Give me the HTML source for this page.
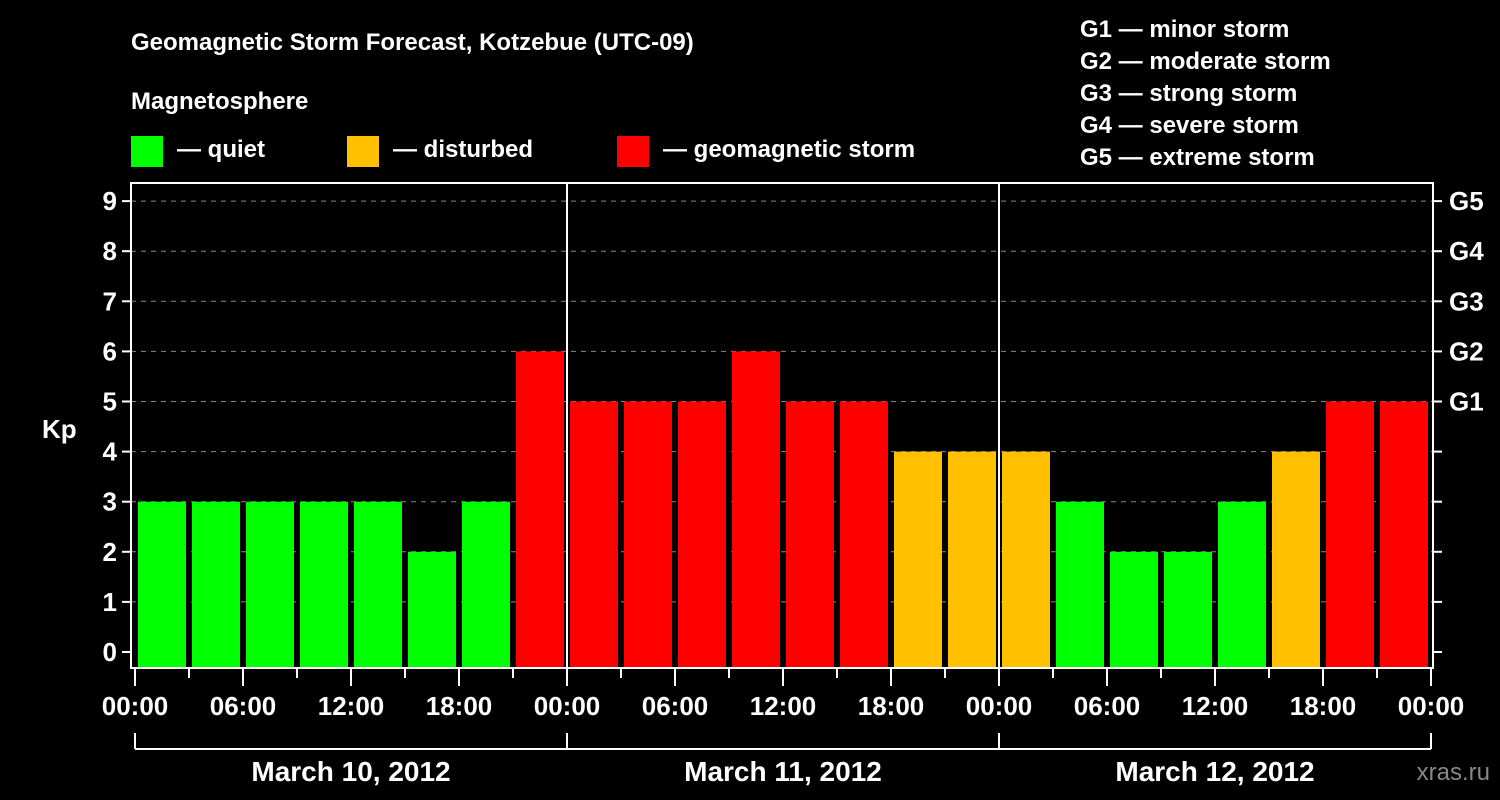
<!DOCTYPE html>
<html><head><meta charset="utf-8"><style>
body{margin:0;background:#000;}
svg{display:block;font-family:"Liberation Sans",Arial,sans-serif;font-weight:bold;}
</style></head><body>
<svg id="c" width="1500" height="800" viewBox="0 0 1500 800">
<rect width="1500" height="800" fill="#000"/>
<text x="131" y="50" fill="#fff" font-size="24">Geomagnetic Storm Forecast, Kotzebue (UTC-09)</text>
<text x="131" y="109" fill="#fff" font-size="24">Magnetosphere</text>
<g><rect x="131" y="136" width="32" height="31" fill="#00ff00"/><text x="177" y="157" fill="#fff" font-size="24">— quiet</text></g>
<g><rect x="347" y="136" width="32" height="31" fill="#ffc000"/><text x="393" y="157" fill="#fff" font-size="24">— disturbed</text></g>
<g><rect x="617" y="136" width="32" height="31" fill="#ff0000"/><text x="663" y="157" fill="#fff" font-size="24">— geomagnetic storm</text></g>
<g fill="#fff" font-size="24">
<text x="1080" y="37">G1 — minor storm</text>
<text x="1080" y="69">G2 — moderate storm</text>
<text x="1080" y="101">G3 — strong storm</text>
<text x="1080" y="133">G4 — severe storm</text>
<text x="1080" y="165">G5 — extreme storm</text>
</g>
<text x="42" y="438" fill="#fff" font-size="26">Kp</text>
<text x="1490" y="780" fill="#888" font-size="24" text-anchor="end" font-weight="normal">xras.ru</text>
<g id="grid"></g><g id="bars"></g><g id="axes"></g>
</svg>
<script>
const kpValues=[3,3,3,3,3,2,3,6, 5,5,5,6,5,5,4,4, 4,3,2,2,3,4,5,5];
const yTicks=[0,1,2,3,4,5,6,7,8,9];
const gLabels=["G1","G2","G3","G4","G5"];
const hourLabels=["00:00","06:00","12:00","18:00"];
const dayLabels=["March 10, 2012","March 11, 2012","March 12, 2012"];
const NS="http://www.w3.org/2000/svg";
const X0=135,SLOT=54,Y0=652,UNIT=50.1,PT=183,PB=668,PL=131,PR=1433;
const x=i=>X0+i*SLOT;
const y=v=>Y0-v*UNIT;
function mk(tag,at,parent){const e=document.createElementNS(NS,tag);for(const k in at)e.setAttribute(k,at[k]);document.getElementById(parent).appendChild(e);return e;}
const col=v=>v>=5?"#ff0000":(v>=4?"#ffc000":"#00ff00");
yTicks.forEach(t=>{
  if(t>0){const l=mk("line",{x1:PL,x2:PR,y1:y(t),y2:y(t),stroke:"#888","stroke-dasharray":"5,5","stroke-width":1},"grid");
  
  }
  const tk=mk("line",{x1:PL-9,x2:PL,y1:y(t),y2:y(t),stroke:"#fff","stroke-width":2},"axes");
  
  
  const tk2=mk("line",{x1:PR,x2:PR+9,y1:y(t),y2:y(t),stroke:"#fff","stroke-width":2},"axes");
  
  
  const tx=mk("text",{x:PL-14,y:y(t)+9,fill:"#fff","font-size":26,"text-anchor":"end"},"axes");tx.textContent=t;
  
  
});
gLabels.forEach((g,i)=>{
  const tx=mk("text",{x:PR+16,y:y(5+i)+9,fill:"#fff","font-size":26},"axes");tx.textContent=g;
  
  
});
kpValues.forEach((v,i)=>{
  const r=mk("rect",{x:x(i)+3,width:SLOT-6,y:y(v),height:PB-y(v),fill:col(v)},"bars");
  
  
});
// day separators
for(let d=1;d<dayLabels.length;d++){
  const l=mk("line",{x1:x(d*8),x2:x(d*8),y1:PT,y2:PB,stroke:"#fff","stroke-width":2},"axes");
  
  
}
const fr=mk("rect",{x:PL,y:PT,width:PR-PL,height:PB-PT,fill:"none",stroke:"#fff","stroke-width":2},"axes");


for(let i=0;i<=kpValues.length;i++){
  const major=i%2===0;
  const t=mk("line",{x1:x(i),x2:x(i),y1:PB,y2:PB+(major?18:10),stroke:"#fff","stroke-width":2},"axes");
  
  
  if(major){const tx=mk("text",{x:x(i),y:715,fill:"#fff","font-size":26,"text-anchor":"middle"},"axes");tx.textContent=hourLabels[(i/2)%4];
  
  }
}
const br=mk("line",{x1:x(0),x2:x(kpValues.length),y1:749,y2:749,stroke:"#fff","stroke-width":2},"axes");


for(let d=0;d<=dayLabels.length;d++){
  const l=mk("line",{x1:x(d*8),x2:x(d*8),y1:733,y2:749,stroke:"#fff","stroke-width":2},"axes");
  
  
}
dayLabels.forEach((d,i)=>{
  const tx=mk("text",{x:x(i*8+4),y:781,fill:"#fff","font-size":28,"text-anchor":"middle"},"axes");tx.textContent=d;
  
  
});
</script>
</body></html>
